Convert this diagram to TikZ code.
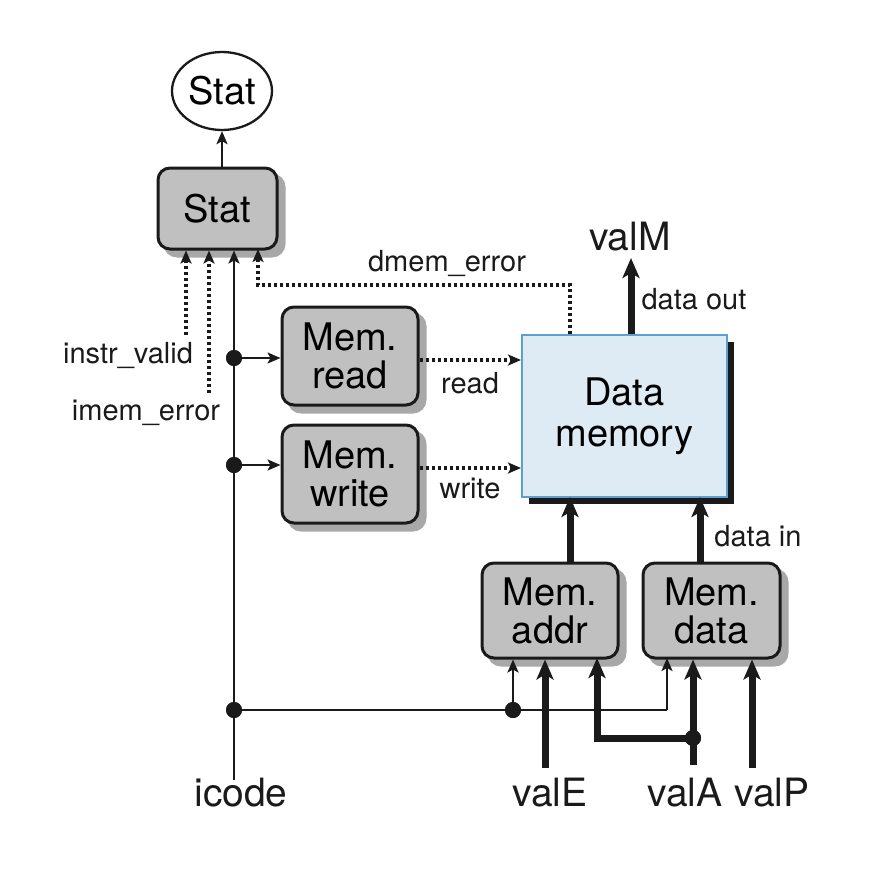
\documentclass[tikz,border=0pt]{standalone}
\usepackage{fontspec}
\setmainfont{TeX Gyre Heros}
\usetikzlibrary{arrows.meta,shapes.geometric,calc}
\definecolor{ink}{HTML}{1A1A1A}
\definecolor{boxgray}{HTML}{C0C0C0}
\definecolor{shadgray}{HTML}{A8A8A8}
\definecolor{memfill}{HTML}{DEEAF4}
\definecolor{memedge}{HTML}{5A9FD5}
\tikzset{
  hwbox/.style={draw=ink, line width=3pt, fill=boxgray, rounded corners=12pt,
    align=center, font=\fontsize{38}{38}\selectfont, inner sep=0pt,
    preaction={fill=shadgray, draw=shadgray, line width=3pt, transform canvas={xshift=7pt,yshift=-7pt}}},
  membox/.style={draw=memedge, line width=2pt, fill=memfill, align=center,
    font=\fontsize{38}{41}\selectfont, inner sep=0pt,
    preaction={fill=ink, transform canvas={xshift=7pt,yshift=-7pt}}},
  bigtext/.style={font=\fontsize{39}{40}\selectfont, text=ink, inner sep=0pt},
  smalltext/.style={font=\fontsize{29}{30}\selectfont, text=ink, inner sep=0pt},
  thin/.style={draw=ink, line width=2.3pt},
  thinarrow/.style={thin, -{Stealth[length=13pt,width=11pt,inset=3pt]}},
  thick bus/.style={draw=ink, line width=7pt},
  busarrow/.style={thick bus, -{Stealth[length=20pt,width=17pt,inset=5pt]}},
  dotline/.style={draw=ink, line width=3.2pt, dash pattern=on 3pt off 3pt},
  dotarrow/.style={dotline, -{Stealth[length=13pt,width=11pt,inset=3pt]}},
  junction/.style={circle, fill=ink, inner sep=0pt, minimum size=16pt},
}
\begin{document}
\begin{tikzpicture}[x=1pt,y=-1pt]
\useasboundingbox (0,0) rectangle (878,876);

% nodes
\node[ellipse, draw=ink, line width=2.3pt, fill=white, minimum width=100pt, minimum height=78pt,
      inner sep=0pt, font=\fontsize{38}{38}\selectfont] (stat) at (222,91) {Stat};
\node[hwbox, minimum width=119pt, minimum height=81pt] (statbox) at (217.5,208.5) {Stat};
\node[hwbox, minimum width=136pt, minimum height=98pt] (memread) at (350,356) {Mem.\\read};
\node[hwbox, minimum width=136pt, minimum height=98pt] (memwrite) at (350,474) {Mem.\\write};
\node[membox, minimum width=205pt, minimum height=162pt] (dmem) at (624.5,416) {Data\\memory};
\node[hwbox, minimum width=136pt, minimum height=95pt] (memaddr) at (550,610.5) {Mem.\\addr};
\node[hwbox, minimum width=137pt, minimum height=95pt] (memdata) at (711.5,610.5) {Mem.\\data};

% free ends / coordinates
\coordinate (icodeend) at (234,780);
\coordinate (valEend) at (545,768);
\coordinate (valAend) at (693,765);
\coordinate (valPend) at (752,768);
\coordinate (ivend) at (186,335);
\coordinate (ieend) at (209,393);
\coordinate (valMend) at (631,258);
\coordinate (dmturn) at (570,285);

% junction dots
\node[junction] (j1) at (234,358) {};
\node[junction] (j2) at (234,465) {};
\node[junction] (j3) at (234,710) {};
\node[junction] (j4) at (513,710) {};
\node[junction] (j5) at (693,738) {};

% stat connections
\draw[thinarrow] (stat.south |- statbox.north) -- (stat.south);
\draw[thinarrow] (icodeend) -- (icodeend |- statbox.south);
\draw[dotarrow] (ivend) -- (ivend |- statbox.south);
\draw[dotarrow] (ieend) -- (ieend |- statbox.south);
\draw[dotarrow] (dmturn |- dmem.north) -- (dmturn) -- (258,285) -- (258,249);

% control lines
\draw[thinarrow] (j1.center) -- (j1 -| memread.west);
\draw[thinarrow] (j2.center) -- (j2 -| memwrite.west);
\draw[dotarrow] ($(memread.east)+(0,4)$) -- ($(memread.east -| dmem.west)+(0,4)$);
\draw[dotarrow] ($(memwrite.east)+(0,-6)$) -- ($(memwrite.east -| dmem.west)+(0,-6)$);
\draw[thin] (j3.center) -- (667,710);
\draw[thinarrow] (667,710) -- (667,658);
\draw[thinarrow] (j4.center) -- (j4 |- memaddr.south);

% buses
\draw[busarrow] (570,563) -- (570,497);
\draw[busarrow] (700,563) -- (700,497);
\draw[busarrow] (valMend |- dmem.north) -- (valMend);
\draw[busarrow] (valEend) -- (valEend |- memaddr.south);
\draw[busarrow] (valAend) -- (valAend |- memdata.south);
\draw[busarrow, line join=miter] (j5.center) -- (597,738) -- (597,658);
\draw[busarrow] (valPend) -- (valPend |- memdata.south);

% redraw dots on top
\fill[ink] (j1) circle (8pt) (j2) circle (8pt) (j3) circle (8pt) (j4) circle (8pt) (j5) circle (8pt);

% labels
\node[smalltext] (ldm) at (447,263) {dmem\_error};
\node[smalltext] (liv) at (128,355) {instr\_valid};
\node[smalltext] (lie) at (146,413) {imem\_error};
\node[smalltext] (lrd) at (470,383) {read};
\node[smalltext] (lwr) at (470,488) {write};
\node[smalltext] (ldo) at (694,299) {data out};
\node[smalltext] (ldi) at (758,536) {data in};
\node[bigtext] (lvm) at (630,237) {valM};
\node[bigtext] (lic) at (241,793) {icode};
\node[bigtext] (lve) at (550,793) {valE};
\node[bigtext] (lva) at (685,793) {valA};
\node[bigtext] (lvp) at (772,793) {valP};
\end{tikzpicture}
\end{document}
